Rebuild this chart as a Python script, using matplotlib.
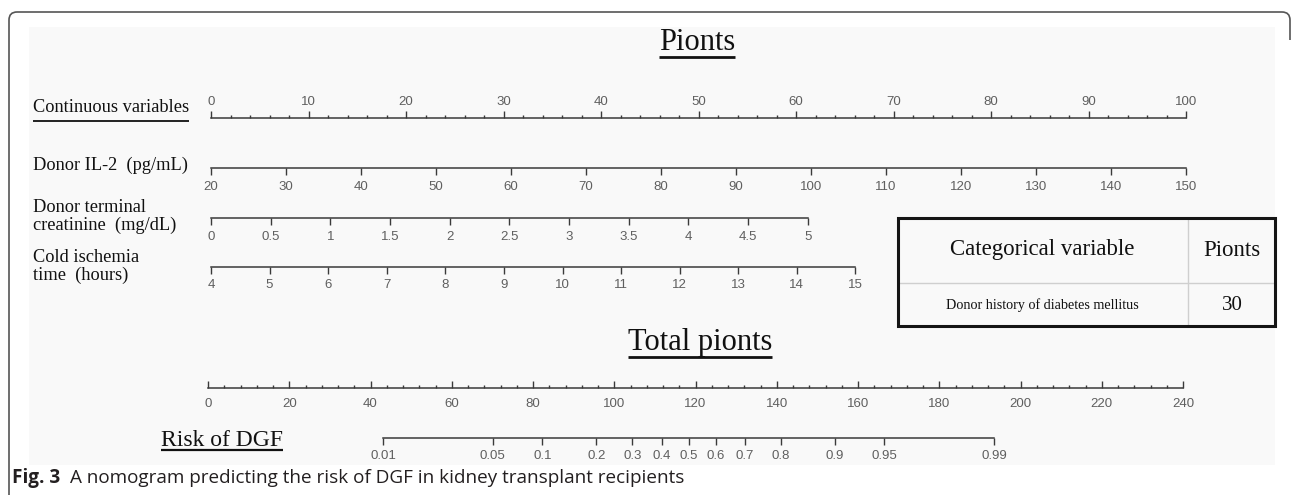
import numpy as np
import matplotlib
matplotlib.use("Agg")
import matplotlib.pyplot as plt
from matplotlib.patches import Rectangle, PathPatch
from matplotlib.path import Path
from matplotlib.ticker import FixedLocator, MultipleLocator

plt.rcParams['font.family'] = ['Liberation Sans', 'DejaVu Sans']

# ---------------- data ----------------
points_ticks = [0, 10, 20, 30, 40, 50, 60, 70, 80, 90, 100]
il2_ticks = [20, 30, 40, 50, 60, 70, 80, 90, 100, 110, 120, 130, 140, 150]
creat_ticks = [0, 0.5, 1, 1.5, 2, 2.5, 3, 3.5, 4, 4.5, 5]
creat_labels = ["0", "0.5", "1", "1.5", "2", "2.5", "3", "3.5", "4", "4.5", "5"]
cold_ticks = [4, 5, 6, 7, 8, 9, 10, 11, 12, 13, 14, 15]
total_ticks = [0, 20, 40, 60, 80, 100, 120, 140, 160, 180, 200, 220, 240]
risk_ticks = [0.01, 0.05, 0.1, 0.2, 0.3, 0.4, 0.5, 0.6, 0.7, 0.8, 0.9, 0.95, 0.99]
risk_labels = ["0.01", "0.05", "0.1", "0.2", "0.3", "0.4", "0.5", "0.6", "0.7", "0.8", "0.9", "0.95", "0.99"]

# points contributed by each continuous variable at its maximum value
il2_max_points = 100.0
creat_max_points = 61.2
cold_max_points = 66.1
# total points <-> risk relationship (total points at logit 0 and points per logit unit)
risk_center_points = 118.3
points_per_logit = 16.37

table_header = ["Categorical variable", "Pionts"]
table_row = ["Donor history of diabetes mellitus", "30"]
caption_bold = "Fig. 3"
caption_text = "A nomogram predicting the risk of DGF in kidney transplant recipients"

# ---------------- figure ----------------
W, H = 1292, 495
fig = plt.figure(figsize=(W / 100, H / 100), dpi=100)
fig.patch.set_facecolor('white')
ax0 = fig.add_axes([0, 0, 1, 1])
ax0.set_xlim(0, W)
ax0.set_ylim(H, 0)
ax0.axis('off')

SERIF = ['Liberation Serif', 'DejaVu Serif']
SANS = ['Liberation Sans', 'DejaVu Sans']
AXCOL = '#3a3a3a'
TICKCOL = '#5f5f5f'

# light image background and frame
ax0.add_patch(Rectangle((29, 27), 1275 - 29, 465 - 27, facecolor='#f9f9f9', edgecolor='none', zorder=0))
r = 8
verts = [(9, H + 5), (9, 12 + r), (9, 12), (9 + r, 12), (1290 - r, 12), (1290, 12), (1290, 12 + r), (1290, 40)]
codes = [Path.MOVETO, Path.LINETO, Path.CURVE3, Path.CURVE3, Path.LINETO, Path.CURVE3, Path.CURVE3, Path.LINETO]
ax0.add_patch(PathPatch(Path(verts, codes), facecolor='none', edgecolor='#555555', lw=1.2, zorder=1))

# ---------------- scales ----------------
PX0 = 211.0           # x of 0 points
PX_PER_PT = (1186.0 - 211.0) / 100.0
TX0 = 208.0           # x of 0 total points
TX_PER_PT = (1183.0 - 208.0) / 240.0


def scale_axes(x0, x1, y_line, lo, hi, side):
    h = 0.02
    if side == 'top':
        bottom = 1 - y_line / H - h
    else:
        bottom = 1 - y_line / H
    ax = fig.add_axes([x0 / W, bottom, (x1 - x0) / W, h])
    ax.set_xlim(lo, hi)
    ax.patch.set_visible(False)
    ax.yaxis.set_visible(False)
    for s in ['left', 'right', 'top', 'bottom']:
        ax.spines[s].set_visible(s == side)
    ax.spines[side].set_color(AXCOL)
    ax.spines[side].set_linewidth(1.1)
    ax.xaxis.set_ticks_position(side)
    ax.xaxis.set_label_position(side)
    return ax


def style_ticks(ax, direction, pad, length=5):
    ax.tick_params(axis='x', which='major', direction=direction, length=length, width=1.0,
                   color=AXCOL, labelcolor=TICKCOL, labelsize=9.5, pad=pad)
    ax.tick_params(axis='x', which='minor', direction=direction, length=2.5, width=1.0, color=AXCOL)


# Points (0-100)
axp = scale_axes(PX0, PX0 + 100 * PX_PER_PT, 118, 0, 100, 'top')
axp.xaxis.set_major_locator(FixedLocator(points_ticks))
axp.xaxis.set_minor_locator(MultipleLocator(2))
axp.set_xticklabels([str(v) for v in points_ticks])
style_ticks(axp, 'out', 2.0)

# Donor IL-2
axi = scale_axes(PX0, PX0 + il2_max_points * PX_PER_PT, 168, il2_ticks[0], il2_ticks[-1], 'bottom')
axi.set_xticks(il2_ticks)
axi.set_xticklabels([str(v) for v in il2_ticks])
style_ticks(axi, 'out', 4.5)

# Donor terminal creatinine
axc = scale_axes(PX0, PX0 + creat_max_points * PX_PER_PT, 218, creat_ticks[0], creat_ticks[-1], 'bottom')
axc.set_xticks(creat_ticks)
axc.set_xticklabels(creat_labels)
style_ticks(axc, 'out', 4.5)

# Cold ischemia time
axk = scale_axes(PX0, PX0 + cold_max_points * PX_PER_PT, 267, cold_ticks[0], cold_ticks[-1], 'bottom')
axk.set_xticks(cold_ticks)
axk.set_xticklabels([str(v) for v in cold_ticks])
style_ticks(axk, 'out', 3.5)

# Total points
axt = scale_axes(TX0, TX0 + 240 * TX_PER_PT, 388, 0, 240, 'bottom')
axt.xaxis.set_major_locator(FixedLocator(total_ticks))
axt.xaxis.set_minor_locator(MultipleLocator(4))
axt.set_xticklabels([str(v) for v in total_ticks])
style_ticks(axt, 'in', 7)

# Risk of DGF (positions on the total points scale)
risk_arr = np.array(risk_ticks)
risk_pts = risk_center_points + points_per_logit * np.log(risk_arr / (1 - risk_arr))
axr = scale_axes(TX0, TX0 + 240 * TX_PER_PT, 438, 0, 240, 'bottom')
axr.spines['bottom'].set_bounds(risk_pts[0], risk_pts[-1])
axr.set_xticks(risk_pts)
axr.set_xticklabels(risk_labels)
style_ticks(axr, 'out', 3.5)

for a in [axp, axi, axc, axk, axt, axr]:
    for lbl in a.get_xticklabels():
        lbl.set_fontfamily(SANS)

# ---------------- texts ----------------
fig.canvas.draw()
renderer = fig.canvas.get_renderer()


def underline(t, y, lw):
    bb = t.get_window_extent(renderer)
    ax0.plot([bb.x0, bb.x1], [y, y], color='#111111', lw=lw, solid_capstyle='butt', zorder=3)


t = ax0.text(697, 50, "Pionts", fontsize=22, family=SERIF, ha='center', va='baseline', color='#111111')
underline(t, 57, 2.0)
t = ax0.text(33, 112, "Continuous variables", fontsize=13.2, family=SERIF, ha='left', va='baseline', color='#111111')
underline(t, 121, 1.3)
ax0.text(33, 170, "Donor IL-2  (pg/mL)", fontsize=13.2, family=SERIF, ha='left', va='baseline', color='#111111')
ax0.text(33, 212, "Donor terminal", fontsize=13.2, family=SERIF, ha='left', va='baseline', color='#111111')
ax0.text(33, 230, "creatinine  (mg/dL)", fontsize=13.2, family=SERIF, ha='left', va='baseline', color='#111111')
ax0.text(33, 262, "Cold ischemia", fontsize=13.2, family=SERIF, ha='left', va='baseline', color='#111111')
ax0.text(33, 280, "time  (hours)", fontsize=13.2, family=SERIF, ha='left', va='baseline', color='#111111')

t = ax0.text(700, 350, "Total pionts", fontsize=22, family=SERIF, ha='center', va='baseline', color='#111111')
underline(t, 357, 2.0)
t = ax0.text(161, 446, "Risk of DGF", fontsize=17, family=SERIF, ha='left', va='baseline', color='#111111')
underline(t, 450, 1.6)

# ---------------- table ----------------
tx0, tx1, tdiv, ty0, ty1, tmid = 898, 1275, 1188, 218, 326, 283
ax0.plot([tdiv, tdiv], [ty0, ty1], color='#cfcfcf', lw=1.0, zorder=3)
ax0.plot([tx0, tx1], [tmid, tmid], color='#cfcfcf', lw=1.0, zorder=3)
ax0.add_patch(Rectangle((tx0, ty0), tx1 - tx0, ty1 - ty0, facecolor='none', edgecolor='#151515', lw=2.2, zorder=4))
ax0.text(1042, 250, table_header[0], fontsize=16.5, family=SERIF, ha='center', va='center', color='#111111')
ax0.text(1232, 250, table_header[1], fontsize=16.5, family=SERIF, ha='center', va='center', color='#111111')
ax0.text(1042, 305, table_row[0], fontsize=10.2, family=SERIF, ha='center', va='center', color='#111111')
ax0.text(1232, 305, table_row[1], fontsize=15, family=SERIF, ha='center', va='center', color='#111111')

# ---------------- caption (fitted to span x = 12 .. 682) ----------------
CAP = ['Open Sans', 'DejaVu Sans']
cap_left, cap_right = 12, 682


def caption_width(size):
    a = ax0.text(0, 0, caption_bold, fontsize=size, family=CAP, fontweight='bold')
    b = ax0.text(0, 0, caption_text, fontsize=size, family=CAP)
    wa = a.get_window_extent(renderer).width
    wb = b.get_window_extent(renderer).width
    a.remove()
    b.remove()
    return wa, wb


s0 = 12.0
wa, wb = caption_width(s0)
gap0 = 0.75 * s0
cap_size = s0 * (cap_right - cap_left) / (wa + wb + gap0)
wa, wb = caption_width(cap_size)
tb = ax0.text(cap_left, 478, caption_bold, fontsize=cap_size, family=CAP, fontweight='bold',
              ha='left', va='center', color='#231f20')
ax0.text(cap_left + wa + 0.75 * cap_size, 478, caption_text, fontsize=cap_size, family=CAP,
         ha='left', va='center', color='#231f20')

fig.savefig('out.png', dpi=100)
